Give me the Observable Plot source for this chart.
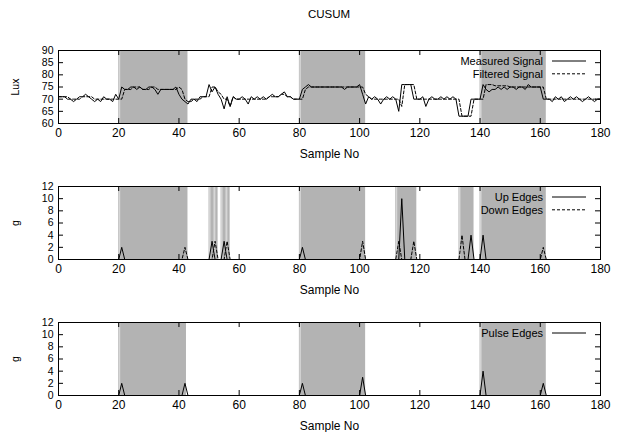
<!DOCTYPE html>
<html><head><meta charset="utf-8">
<script src="https://cdn.jsdelivr.net/npm/d3@7"></script>
<script src="https://cdn.jsdelivr.net/npm/@observablehq/plot@0.6"></script>
<style>
body{margin:0;background:#fff;font-family:"Liberation Sans",Arial,sans-serif;}
#title{height:28px;width:623px;box-sizing:border-box;padding-left:35px;text-align:center;font-size:11.5px;line-height:28px;color:#000;}
svg{display:block}
</style></head><body>
<div id="title">CUSUM</div>
<div id="chart"></div>
<script>
// ---- data ----
const sampleNos = d3.range(0, 181);
const xTicks = [0, 20, 40, 60, 80, 100, 120, 140, 160, 180];
const luxTicks = [60, 65, 70, 75, 80, 85, 90];
const gTicks = [0, 2, 4, 6, 8, 10, 12];

const measuredLux = [
  71,71,71,70,70,69,70,71,71,72,
  71,70,69,70,69,71,70,70,69,72,
  70,75,74,74,75,75,74,75,74,74,
  75,75,74,72,74,74,74,74,74,75,
  72,70,69,68,70,70,69,71,71,71,
  76,73,75,72,70,66,71,67,71,70,
  70,71,70,68,71,70,71,70,71,70,
  71,72,71,71,72,73,71,71,70,70,
  70,74,75,76,75,75,75,75,75,75,
  75,75,75,75,75,74,75,75,75,75,
  76,72,68,71,70,71,70,68,70,71,
  70,71,70,65,76,76,76,76,70,70,
  70,71,67,70,71,70,70,71,70,71,
  70,71,70,63,63,63,63,70,70,70,
  70,76,74,73,74,74,75,74,75,74,
  75,75,74,75,75,74,76,75,75,75,
  75,70,70,70,69,71,70,71,69,70,
  71,70,71,70,69,70,71,70,69,70,
  70
];
const filteredLux = [
  71,71,71,71,70,70,70,70,71,71,
  71,71,70,70,70,70,70,70,70,70,
  70,70,74,74,74,75,75,75,74,74,
  74,75,75,74,74,74,74,74,74,74,
  75,74,70,69,69,70,70,70,71,71,
  71,75,75,73,72,70,70,67,71,70,
  70,70,70,70,70,70,70,70,70,70,
  71,71,71,71,72,72,71,71,70,70,
  70,70,74,75,75,75,75,75,75,75,
  75,75,75,75,75,75,75,75,75,75,
  75,75,72,71,70,70,70,70,70,70,
  70,70,70,70,67,76,76,76,76,70,
  70,70,70,70,70,70,70,70,70,70,
  70,70,70,70,63,63,63,63,70,70,
  70,70,76,76,76,75.5,75.5,75.5,75.5,75.5,
  75,75,75,75,75,75,75,75,75,75,
  75,75,70,70,70,70,70,70,70,70,
  70,70,70,70,70,70,70,70,70,70,
  70
];

// edge detector outputs (sample no -> g), zero elsewhere
const upEdgeSamples = [21, 51, 55, 81, 114, 137, 141];
const upEdgeValues  = [2, 3, 3, 2, 10, 4, 4];
const downEdgeSamples = [42, 52, 56, 101, 113, 118, 134, 161];
const downEdgeValues  = [2, 3, 3, 3, 3, 3, 4, 2];
const pulseEdgeSamples = [21, 42, 81, 101, 141, 161];
const pulseEdgeValues  = [2, 2, 2, 3, 4, 2];

// shaded regions
const luxRegionStart = [20, 80, 140];
const luxRegionEnd   = [43, 102, 162];
const edgeRegionStart = [20, 50, 51.6, 54, 55.6, 80, 112, 133, 140];
const edgeRegionEnd   = [43, 51.6, 53, 55.6, 57, 102, 119, 138, 162];
const pulseRegionStart = [20, 80, 140];
const pulseRegionEnd   = [42.5, 102, 162];

// ---- tables ----
const toRegions = (s, e) => s.map((v, i) => ({start: v, end: e[i]}));
const toSeries = (pos, vals) => sampleNos.map(x => {
  const k = pos.indexOf(x);
  return {x, y: k < 0 ? 0 : vals[k]};
});
const luxTable = sampleNos.map((x, i) => ({x, measured: measuredLux[i], filtered: filteredLux[i]}));

// ---- panel builder ----
function panel({yDomain, yTicks, yLabel, regions, lines, legend, height, marginBottom}) {
  const W = 623, mL = 58, mR = 23, mT = 22;
  const plotH = height - mT - marginBottom;
  const plotW = W - mL - mR;
  const tl = 5;
  const legendMark = (index, scales, values, dims) => {
    const g = d3.create("svg:g")
      .attr("font-family", "Liberation Sans, Arial, sans-serif")
      .attr("font-size", 11);
    const right = dims.width - dims.marginRight;
    legend.forEach((item, i) => {
      const y = dims.marginTop + 11 + i * 12.8;
      g.append("text").attr("x", right - 57).attr("y", y).attr("dy", "0.35em")
        .attr("text-anchor", "end").attr("fill", "black").text(item.label);
      g.append("line").attr("x1", right - 48).attr("x2", right - 14)
        .attr("y1", y).attr("y2", y).attr("stroke", "black").attr("stroke-width", 1)
        .attr("stroke-dasharray", item.dash || null);
    });
    return g.node();
  };
  return Plot.plot({
    width: W, height, marginLeft: mL, marginRight: mR, marginTop: mT, marginBottom,
    style: {fontFamily: "Liberation Sans, Arial, sans-serif", fontSize: "12px", color: "black", background: "white", overflow: "visible"},
    x: {domain: [0, 180]},
    y: {domain: yDomain},
    marks: [
      Plot.rect(regions, {x1: "start", x2: "end", fill: "#b3b3b3"}),
      Plot.ruleX(regions, {x: "start", stroke: "#d6d6d6", strokeWidth: 1.5, dx: 0.75}),
      ...lines.map(l => Plot.line(l.data, {x: "x", y: l.y, stroke: "black", strokeWidth: 1, strokeDasharray: l.dash})),
      Plot.tickX(xTicks, {x: d => d, insetTop: plotH - tl, stroke: "black"}),
      Plot.tickX(xTicks, {x: d => d, insetBottom: plotH - tl, stroke: "black"}),
      Plot.tickY(yTicks, {y: d => d, insetRight: plotW - tl, stroke: "black"}),
      Plot.tickY(yTicks, {y: d => d, insetLeft: plotW - tl, stroke: "black"}),
      Plot.frame({stroke: "black"}),
      Plot.axisX(xTicks, {tickSize: 0, tickPadding: 5, label: "Sample No", labelAnchor: "center", labelArrow: "none", labelOffset: 34}),
      Plot.axisY(yTicks, {tickSize: 0, tickPadding: 5, fontSize: 10.5, label: yLabel, labelAnchor: "center", labelArrow: "none", labelOffset: 47}),
      legendMark
    ]
  });
}

const chart = document.getElementById("chart");
chart.append(panel({
  yDomain: [60, 90], yTicks: luxTicks, yLabel: "Lux",
  regions: toRegions(luxRegionStart, luxRegionEnd),
  lines: [
    {data: luxTable, y: "measured"},
    {data: luxTable, y: "filtered", dash: "3,2"}
  ],
  legend: [{label: "Measured Signal"}, {label: "Filtered Signal", dash: "3,2"}],
  height: 136, marginBottom: 41
}));
chart.append(panel({
  yDomain: [0, 12], yTicks: gTicks, yLabel: "g",
  regions: toRegions(edgeRegionStart, edgeRegionEnd),
  lines: [
    {data: toSeries(upEdgeSamples, upEdgeValues), y: "y"},
    {data: toSeries(downEdgeSamples, downEdgeValues), y: "y", dash: "3,2"}
  ],
  legend: [{label: "Up Edges"}, {label: "Down Edges", dash: "3,2"}],
  height: 136, marginBottom: 41
}));
chart.append(panel({
  yDomain: [0, 12], yTicks: gTicks, yLabel: "g",
  regions: toRegions(pulseRegionStart, pulseRegionEnd),
  lines: [
    {data: toSeries(pulseEdgeSamples, pulseEdgeValues), y: "y"}
  ],
  legend: [{label: "Pulse Edges"}],
  height: 132, marginBottom: 37
}));
</script>
</body></html>
